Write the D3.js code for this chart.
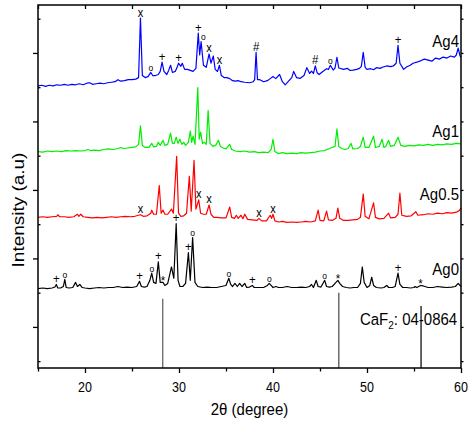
<!DOCTYPE html>
<html>
<head>
<meta charset="utf-8">
<script src="https://cdn.jsdelivr.net/npm/d3@7"></script>
<style>
  body { margin: 0; background: #fff; }
  svg { display: block; font-family: "Liberation Sans", Arial, sans-serif; }
</style>
</head>
<body>
<div id="chart"></div>
<script>
// XRD patterns, [2theta, intensity above the trace's own offset]
const ag0Data = [[15.0,0],[15.5,8],[16.0,0],[16.5,8],[16.8,22],[16.95,60],[17.1,8],[17.4,8],[17.7,30],[17.85,135],[18.0,15],[18.3,8],[18.7,15],[19.0,90],[19.2,30],[19.45,60],[19.7,15],[20.0,8],[20.5,0],[21.0,8],[21.5,15],[22.0,8],[22.5,15],[23.0,15],[23.5,30],[24.0,15],[24.5,22],[25.0,15],[25.5,30],[25.8,105],[26.0,30],[26.3,22],[26.6,30],[26.9,120],[27.1,225],[27.3,90],[27.55,75],[27.8,390],[28.0,90],[28.3,90],[28.5,45],[28.8,75],[29.2,315],[29.45,150],[29.7,950],[29.9,120],[30.1,30],[30.4,30],[30.7,75],[31.0,525],[31.2,120],[31.45,745],[31.7,90],[32.0,30],[32.5,15],[33.0,22],[33.5,15],[34.0,15],[34.5,30],[35.0,45],[35.3,150],[35.5,60],[35.7,30],[35.95,75],[36.2,30],[36.45,75],[36.7,30],[37.0,75],[37.2,15],[37.5,22],[37.8,45],[38.0,15],[38.5,15],[39.0,15],[39.4,45],[39.6,75],[39.8,45],[40.0,15],[40.3,30],[40.6,15],[41.0,15],[41.5,30],[42.0,15],[42.5,15],[43.0,22],[43.5,15],[43.9,30],[44.1,60],[44.3,15],[44.6,120],[44.8,30],[45.1,22],[45.5,120],[45.7,30],[46.0,22],[46.3,30],[46.7,90],[46.9,120],[47.1,75],[47.4,30],[47.8,15],[48.2,8],[48.6,15],[49.0,15],[49.3,75],[49.5,315],[49.7,90],[50.0,15],[50.3,45],[50.5,165],[50.7,45],[51.0,15],[51.5,8],[51.8,15],[52.1,45],[52.3,15],[52.7,15],[53.0,30],[53.3,225],[53.5,60],[53.8,15],[54.2,15],[54.6,8],[55.0,15],[55.1,30],[55.3,15],[55.7,45],[56.0,38],[56.5,15],[57.0,15],[57.5,30],[58.0,22],[58.5,15],[59.0,22],[59.4,30],[59.7,75],[60.0,30]];

const ag05Data = [[15.0,0],[15.5,8],[16.0,0],[16.5,8],[17.0,15],[17.1,38],[17.3,8],[17.8,8],[18.3,0],[18.8,8],[19.2,45],[19.35,15],[19.55,45],[19.8,8],[20.3,0],[20.8,-8],[21.3,0],[21.8,-8],[22.3,0],[22.8,8],[23.3,0],[23.8,8],[24.3,15],[24.8,8],[25.3,15],[25.9,38],[26.2,15],[26.6,22],[27.0,60],[27.1,105],[27.3,45],[27.6,45],[27.9,465],[28.1,60],[28.3,105],[28.5,45],[28.8,45],[29.2,120],[29.4,60],[29.75,890],[29.95,60],[30.2,15],[30.5,22],[30.8,60],[31.1,600],[31.3,90],[31.6,830],[31.8,120],[32.1,255],[32.3,60],[32.6,45],[32.9,45],[33.2,180],[33.4,45],[33.7,0],[34.0,0],[34.5,-8],[35.0,-8],[35.4,150],[35.6,0],[35.9,-15],[36.1,30],[36.3,-15],[36.6,30],[36.8,-22],[37.0,45],[37.3,-30],[37.8,-38],[38.3,-45],[38.5,-15],[38.8,-52],[39.3,-52],[39.7,30],[39.85,-15],[40.0,45],[40.2,-52],[40.6,-68],[41.0,-60],[41.5,-75],[42.0,-68],[42.5,-75],[43.0,-68],[43.5,-60],[44.0,-68],[44.5,-52],[44.8,105],[45.0,-45],[45.4,-52],[45.7,90],[45.9,-38],[46.3,-45],[46.7,-15],[46.9,135],[47.1,-15],[47.5,-45],[48.0,-45],[48.5,-38],[49.0,-30],[49.3,0],[49.6,338],[49.8,15],[50.2,-22],[50.7,210],[50.9,0],[51.3,-22],[51.8,-15],[52.3,60],[52.5,-8],[53.0,0],[53.3,45],[53.5,352],[53.7,30],[54.2,15],[54.7,22],[55.2,82],[55.4,30],[56.0,38],[56.5,52],[57.0,45],[57.5,60],[58.0,52],[58.5,68],[59.0,60],[59.5,75],[59.8,98],[60.0,135]];

const ag1Data = [[15.0,0],[15.5,-8],[16.0,8],[16.5,0],[17.0,8],[17.5,0],[18.0,15],[18.5,8],[19.0,15],[19.5,8],[20.0,15],[20.3,30],[20.6,15],[21.0,22],[21.5,15],[22.0,30],[22.5,38],[23.0,30],[23.5,45],[23.8,60],[24.1,45],[24.5,52],[25.0,60],[25.4,68],[25.7,105],[25.9,375],[26.1,90],[26.4,60],[26.8,60],[27.1,120],[27.3,68],[27.6,75],[27.8,135],[28.0,90],[28.3,165],[28.5,90],[28.8,105],[29.1,270],[29.3,120],[29.5,120],[29.7,210],[29.9,120],[30.1,180],[30.3,105],[30.5,135],[30.7,90],[31.0,135],[31.2,300],[31.35,135],[31.5,225],[31.7,105],[32.0,935],[32.15,180],[32.3,285],[32.5,120],[32.7,135],[32.9,105],[33.1,600],[33.3,120],[33.6,75],[33.9,90],[34.2,165],[34.4,75],[34.7,52],[35.0,38],[35.4,105],[35.6,30],[36.0,8],[36.5,0],[37.0,8],[37.5,-8],[38.0,0],[38.5,-15],[39.0,-8],[39.5,-15],[39.8,30],[40.0,180],[40.2,0],[40.6,-30],[41.0,-15],[41.5,-30],[42.0,-22],[42.5,-30],[43.0,-15],[43.5,-22],[44.0,-15],[44.5,-8],[45.0,8],[45.5,15],[46.0,45],[46.3,60],[46.6,75],[46.8,330],[47.0,75],[47.3,45],[47.7,30],[48.0,45],[48.3,120],[48.5,38],[49.0,45],[49.3,75],[49.6,210],[49.8,60],[50.2,60],[50.7,225],[50.9,60],[51.3,75],[51.6,180],[51.8,60],[52.0,75],[52.3,165],[52.5,75],[52.9,90],[53.3,210],[53.6,90],[54.0,75],[54.5,90],[55.0,82],[55.5,98],[56.0,90],[56.5,105],[57.0,90],[57.5,105],[58.0,98],[58.5,112],[59.0,105],[59.5,120],[60.0,112]];

const ag4Data = [[15.0,0],[15.4,8],[15.8,-8],[16.2,8],[16.6,0],[17.0,15],[17.4,8],[17.8,22],[18.2,8],[18.6,22],[19.0,15],[19.4,30],[19.8,15],[20.2,38],[20.5,45],[20.8,22],[21.2,30],[21.6,38],[22.0,30],[22.4,45],[22.8,52],[23.2,60],[23.5,90],[23.8,68],[24.2,75],[24.6,90],[25.0,90],[25.4,98],[25.7,120],[25.9,990],[26.1,150],[26.4,120],[26.7,135],[27.0,195],[27.2,150],[27.5,150],[27.8,165],[28.0,210],[28.2,345],[28.4,210],[28.7,165],[28.9,225],[29.1,300],[29.3,195],[29.6,210],[29.8,270],[29.95,330],[30.2,285],[30.35,330],[30.6,240],[30.9,240],[31.2,225],[31.5,210],[31.8,255],[32.05,770],[32.2,450],[32.35,645],[32.6,300],[32.9,270],[33.2,465],[33.4,330],[33.65,435],[33.85,240],[34.1,210],[34.3,300],[34.5,150],[34.8,120],[35.1,120],[35.4,105],[35.7,75],[36.0,68],[36.3,75],[36.6,60],[37.0,52],[37.5,45],[37.9,60],[38.05,90],[38.2,490],[38.35,90],[38.6,90],[39.0,60],[39.4,75],[39.7,105],[40.0,135],[40.3,105],[40.7,165],[41.0,60],[41.3,15],[41.7,75],[42.0,120],[42.2,210],[42.5,120],[42.9,110],[43.3,150],[43.6,265],[43.9,180],[44.1,215],[44.3,180],[44.5,290],[44.7,190],[44.9,165],[45.3,210],[45.7,250],[45.9,240],[46.1,300],[46.4,230],[46.6,260],[46.8,415],[47.0,260],[47.5,240],[47.9,255],[48.2,225],[48.5,230],[48.9,240],[49.2,255],[49.4,285],[49.6,490],[49.8,270],[50.0,240],[50.4,250],[50.7,235],[51.0,265],[51.4,255],[51.7,275],[52.1,290],[52.5,280],[52.8,290],[53.1,330],[53.3,590],[53.5,330],[53.9,240],[54.2,275],[54.6,300],[54.9,330],[55.3,345],[55.7,365],[56.1,390],[56.5,375],[56.9,360],[57.3,405],[57.7,390],[58.1,420],[58.5,405],[58.9,435],[59.3,420],[59.5,450],[59.7,550],[59.9,435],[60.0,415]];

const seriesNames = ['Ag0', 'Ag0.5', 'Ag1', 'Ag4'];
const seriesOffsets = [560, 1600, 2560, 3520];

// phase marks above peaks: [2theta, symbol]
const ag0Marks = [[16.95,'+'],[17.85,'o'],[25.8,'+'],[27.1,'o'],[27.8,'+'],[28.3,'*'],[29.7,'+'],[31.0,'+'],[31.45,'o'],[35.3,'o'],[37.8,'+'],[39.6,'o'],[45.5,'o'],[46.9,'*'],[53.3,'+'],[55.7,'*']];
const ag05Marks = [[25.9,'x'],[32.1,'x'],[33.2,'x'],[38.5,'x'],[40.0,'x']];
const ag1Marks = [];
const ag4Marks = [[25.9,'x'],[27.0,'o'],[28.2,'+'],[29.95,'+'],[32.05,'+'],[32.6,'o'],[33.2,'x'],[34.3,'x'],[38.2,'#'],[44.5,'#'],[46.1,'o'],[53.3,'+']];

// CaF2 reference card 04-0864
const caf2Positions = [28.27, 47.0, 55.75];
const caf2Intensities = [1010, 1100, 905];

const xMajorTicks = [20, 30, 40, 50, 60];
const xMinorTicks = [15, 25, 35, 45, 55];
const yMajorTicks = [0, 1000, 2000, 3000, 4000];
const yMinorTicks = [-500, 500, 1500, 2500, 3500, 4500];

// ---- layout / style ----
const colors = ['#000000', '#ff0000', '#00ee00', '#0000ff'];
const labelLift = [205, 260, 220, 574];
const stickColors = ['#666', '#555', '#111'];
const stretch = 1.15;

const margin = { top: 5, right: 8, bottom: 55, left: 38 },
	width = 469 - margin.left - margin.right,
	height = 423 - margin.top - margin.bottom;

const svg = d3
	.select('#chart')
	.append('svg')
	.attr('width', 469)
	.attr('height', 423)
	.append('g')
	.attr('transform', `translate(${margin.left},${margin.top})`);

const x = d3.scaleLinear().domain([15, 60]).range([0, width]);
const y = d3.scaleLinear().domain([-600, 4700]).range([height, 0]);

// stretched text helper (the original figure is taller than wide)
function place(sel, px, py, rot) {
	sel.attr('x', 0).attr('y', 0).attr('dy', null)
		.attr('transform', rot
			? `translate(${px},${py}) rotate(-90) scale(${stretch},1)`
			: `translate(${px},${py}) scale(1,${stretch})`);
	return sel;
}

// axes
function tickAxis(axis, tr, vals, size) {
	const g = svg.append('g')
		.attr('transform', tr)
		.call(axis.tickValues(vals).tickSize(size).tickFormat(''));
	g.select('.domain').remove();
	g.selectAll('line').attr('stroke', '#000').attr('stroke-width', 1.3);
	return g;
}
tickAxis(d3.axisBottom(x), `translate(0,${height})`, xMajorTicks, 5);
tickAxis(d3.axisBottom(x), `translate(0,${height})`, xMinorTicks, 3.5);
tickAxis(d3.axisBottom(x), 'translate(0,0)', xMajorTicks.concat(xMinorTicks), 4);
tickAxis(d3.axisLeft(y), 'translate(0,0)', yMajorTicks, 5);
tickAxis(d3.axisRight(y), 'translate(0,0)', yMinorTicks, 2.5);
tickAxis(d3.axisRight(y), `translate(${width},0)`, yMajorTicks.concat(yMinorTicks), 2.5);

// tick labels
svg.append('g').selectAll('text')
	.data(xMajorTicks)
	.enter()
	.append('text')
	.attr('text-anchor', 'middle')
	.attr('font-size', 12.5)
	.attr('fill', '#000')
	.text((d) => d)
	.each(function (d) { place(d3.select(this), x(d), height + 24); });

// CaF2 sticks
svg.selectAll('.stick')
	.data(caf2Positions)
	.enter()
	.append('line')
	.attr('x1', (d) => x(d))
	.attr('x2', (d) => x(d))
	.attr('y1', y(-600))
	.attr('y2', (d, i) => y(-600 + caf2Intensities[i]))
	.attr('stroke', (d, i) => stickColors[i])
	.attr('stroke-width', 1.3);

// traces
const allData = [ag0Data, ag05Data, ag1Data, ag4Data];
const allMarks = [ag0Marks, ag05Marks, ag1Marks, ag4Marks];

allData.forEach((data, i) => {
	svg.append('path')
		.datum(data)
		.attr('fill', 'none')
		.attr('stroke', colors[i])
		.attr('stroke-width', 1.2)
		.attr('stroke-linejoin', 'round')
		.attr('d', d3.line()
			.x((d) => x(d[0]))
			.y((d) => y(d[1] + seriesOffsets[i])));
});

// phase marks, drawn over all traces
allData.forEach((data, i) => {
	allMarks[i].forEach(([t, sym]) => {
		let top = -Infinity;
		data.forEach(([a, v]) => { if (Math.abs(a - t) <= 0.26) top = Math.max(top, v); });
		const py = y(top + seriesOffsets[i]);
		const fs = sym === 'o' ? 8.5 : sym === 'x' ? 11 : 11.5;
		const dy = sym === '*' ? 3 : -1.5;
		const txt = svg.append('text')
			.attr('text-anchor', 'middle')
			.attr('font-size', fs)
			.attr('fill', '#000')
			.text(sym);
		place(txt, x(t), py + dy);
	});

	// series label
	const lab = svg.append('text')
		.attr('text-anchor', 'end')
		.attr('font-size', 15)
		.attr('fill', '#000')
		.text(seriesNames[i]);
	place(lab, width - 2, y(seriesOffsets[i] + labelLift[i]));
});

// CaF2 card label
const card = svg.append('text')
	.attr('font-size', 15)
	.attr('fill', '#000');
card.append('tspan').text('CaF');
card.append('tspan').attr('font-size', 10).attr('dy', 4).text('2');
card.append('tspan').attr('dy', -4).text(': 04-0864');
place(card, x(49.25), y(35));

// frame
svg.append('rect')
	.attr('width', width)
	.attr('height', height)
	.attr('fill', 'none')
	.attr('stroke', '#000')
	.attr('stroke-width', 1.5);

// axis titles
place(svg.append('text')
	.attr('text-anchor', 'middle')
	.attr('font-size', 15)
	.text('2θ (degree)'), width / 2, height + 47);

place(svg.append('text')
	.attr('text-anchor', 'middle')
	.attr('font-size', 16.5)
	.text('Intensity (a.u)'), -margin.left + 24, 205, true);
</script>
</body>
</html>
